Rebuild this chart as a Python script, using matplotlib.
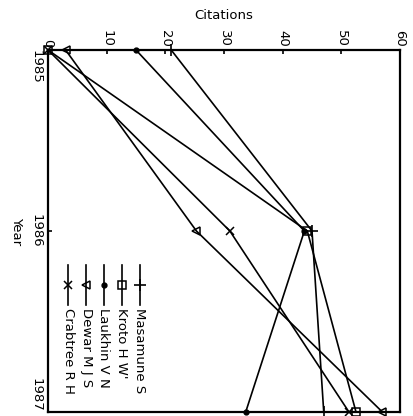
import matplotlib
matplotlib.use("Agg")
import matplotlib.pyplot as plt

years = [1985, 1986, 1987]
year_labels = ["1985", "1986", "1987"]
citation_ticks = [0, 10, 20, 30, 40, 50, 60]

names = ["Masamune S", "Kroto H W'", "Laukhin V N", "Dewar M J S", "Crabtree R H"]
masamune = [21, 45, 47]
kroto = [0, 44.2, 52.5]
laukhin = [15, 43.7, 33.7]
dewar = [3, 25.3, 57]
crabtree = [0, 31, 51.3]

series = [masamune, kroto, laukhin, dewar, crabtree]
markers = [
    dict(marker="+", markersize=9, markeredgewidth=1.2),
    dict(marker="s", markersize=6, markerfacecolor="none", markeredgewidth=1.1),
    dict(marker="o", markersize=3.5),
    dict(marker="<", markersize=6, markerfacecolor="none", markeredgewidth=1.1),
    dict(marker="x", markersize=6, markeredgewidth=1.1),
]

font = ["Liberation Sans Narrow", "DejaVu Sans"]
plt.rcParams["font.family"] = font

fig = plt.figure(figsize=(4.13, 4.16), dpi=100)
ax = fig.add_axes([48 / 413, 4 / 416, 352 / 413, 362 / 416])

for vals, mk in zip(series, markers):
    ax.plot(vals, years, color="black", lw=1.2, clip_on=False, **mk)

ax.set_xlim(0, 60)
ax.set_ylim(1987, 1985)

# citations axis is on top, labels turned like the scan
ax.xaxis.tick_top()
ax.set_xticks(citation_ticks)
ax.set_xticklabels([str(t) for t in citation_ticks], rotation=-90,
                   fontsize=9.5, va="bottom", ha="center")
ax.tick_params(axis="x", direction="in", length=3, width=1.2, pad=2)
ax.set_xlabel("Citations", fontsize=9.5, labelpad=8)
ax.xaxis.set_label_position("top")

ax.set_yticks(years)
ax.set_yticklabels(year_labels, rotation=-90, fontsize=9.5)
ax.tick_params(axis="y", direction="in", length=3, width=1.2, pad=4)
for lab, va in zip(ax.get_yticklabels(), ["top", "center", "bottom"]):
    lab.set_va(va)
ax.set_ylabel("Year", fontsize=9.5, rotation=-90, labelpad=14)

for sp in ax.spines.values():
    sp.set_linewidth(1.6)

# hand-made legend, turned the same way as the rest
for i, (name, mk) in enumerate(zip(names, markers)):
    xa = (140 - 18 * i - 48) / 352
    ax.plot([xa, xa], [0.406, 0.296], transform=ax.transAxes, color="black", lw=1.2)
    ax.plot([xa], [0.351], transform=ax.transAxes, color="black", **mk)
    ax.text(xa, 0.288, name, transform=ax.transAxes, rotation=-90,
            ha="center", va="top", fontsize=9.5)

fig.savefig("out.png", dpi=100, facecolor="white")
